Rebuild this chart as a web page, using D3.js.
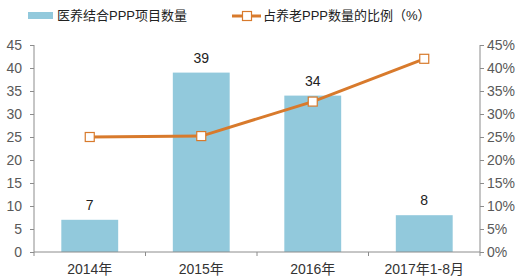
<!DOCTYPE html>
<html>
<head>
<meta charset="utf-8">
<script src="https://cdn.jsdelivr.net/npm/d3@7/dist/d3.min.js"></script>
<style>
  body { margin: 0; background: #fff; }
  svg text { font-family: "Liberation Sans", Arial, "Noto Sans CJK SC", sans-serif; fill: #404040; }
  .axis path, .axis line { stroke: #8c8c8c; }
</style>
</head>
<body>
<svg id="chart" width="520" height="280"></svg>
<script>
"use strict";

const categories = ["2014年", "2015年", "2016年", "2017年1-8月"];
const projectCounts = [7, 39, 34, 8];
const elderlyShare = [25.0, 25.2, 32.7, 42.0];
const leftTicks = [0, 5, 10, 15, 20, 25, 30, 35, 40, 45];
const rightTicks = [0, 5, 10, 15, 20, 25, 30, 35, 40, 45];
const seriesNames = ["医养结合PPP项目数量", "占养老PPP数量的比例（%）"];

const barColor = "#92c9dc";
const lineColor = "#d87a2c";

const svg = d3.select("#chart"),
	width = +svg.attr("width"),
	height = +svg.attr("height");

const margin = { left: 34, right: 40, top: 45, bottom: 28 };
const x0 = margin.left, x1 = width - margin.right;
const yTop = margin.top, yBottom = height - margin.bottom;

let xScale = d3.scaleBand()
	.domain(categories)
	.range([x0, x1])
	.paddingInner(0.49)
	.paddingOuter(0.245);

let xOuter = d3.scaleBand()
	.domain(categories)
	.range([x0, x1]);

let yLeft = d3.scaleLinear().domain([0, 45]).range([yBottom, yTop]);
let yRight = d3.scaleLinear().domain([0, 45]).range([yBottom, yTop]);

// bars
svg.selectAll("rect.bar")
	.data(projectCounts)
	.enter()
	.append("rect")
	.attr("class", "bar")
	.attr("x", (d, i) => xScale(categories[i]))
	.attr("y", d => yLeft(d))
	.attr("width", xScale.bandwidth())
	.attr("height", d => yLeft(0) - yLeft(d))
	.style("fill", barColor);

svg.selectAll("text.value")
	.data(projectCounts)
	.enter()
	.append("text")
	.attr("class", "value")
	.attr("x", (d, i) => xScale(categories[i]) + xScale.bandwidth() / 2)
	.attr("y", d => yLeft(d) - 10)
	.attr("text-anchor", "middle")
	.style("font-size", "14px")
	.style("fill", "#222")
	.text(d => d);

// axes
let yAxisLeft = d3.axisLeft(yLeft).tickValues(leftTicks).tickSize(4).tickPadding(8);
let yAxisRight = d3.axisRight(yRight).tickValues(rightTicks).tickSize(4).tickPadding(3)
	.tickFormat(d => d + "%");

let gL = svg.append("g")
	.attr("class", "axis")
	.attr("transform", "translate(" + x0 + ",0)")
	.call(yAxisLeft);
gL.select(".domain").attr("d", "M0," + yTop + "V" + yBottom);

let gR = svg.append("g")
	.attr("class", "axis")
	.attr("transform", "translate(" + x1 + ",0)")
	.call(yAxisRight);
gR.select(".domain").attr("d", "M0," + yTop + "V" + yBottom);

svg.selectAll(".axis text").style("font-size", "14px").style("fill", "#595959");

// x axis: line with ticks on band boundaries
let gX = svg.append("g").attr("class", "axis");
gX.append("line")
	.attr("x1", x0).attr("x2", x1)
	.attr("y1", yBottom).attr("y2", yBottom);
let boundaries = categories.map(c => xOuter(c)).concat([x1]);
gX.selectAll("line.tick")
	.data(boundaries)
	.enter()
	.append("line")
	.attr("class", "tick")
	.attr("x1", d => d).attr("x2", d => d)
	.attr("y1", yBottom).attr("y2", yBottom + 4);
gX.selectAll("text")
	.data(categories)
	.enter()
	.append("text")
	.attr("x", d => xOuter(d) + xOuter.bandwidth() / 2)
	.attr("y", yBottom + 22)
	.attr("text-anchor", "middle")
	.style("font-size", "14px")
	.style("fill", "#333")
	.text(d => d);

// line series
let line = d3.line()
	.x((d, i) => xOuter(categories[i]) + xOuter.bandwidth() / 2)
	.y(d => yRight(d));

svg.append("path")
	.datum(elderlyShare)
	.attr("d", line)
	.style("fill", "none")
	.style("stroke", lineColor)
	.style("stroke-width", 3);

svg.selectAll("rect.marker")
	.data(elderlyShare)
	.enter()
	.append("rect")
	.attr("class", "marker")
	.attr("x", (d, i) => xOuter(categories[i]) + xOuter.bandwidth() / 2 - 4.5)
	.attr("y", d => yRight(d) - 4.5)
	.attr("width", 9)
	.attr("height", 9)
	.style("fill", "#fff")
	.style("stroke", lineColor)
	.style("stroke-width", 1.2);

// legend
let legend = svg.append("g");
legend.append("rect")
	.attr("x", 28).attr("y", 12)
	.attr("width", 25).attr("height", 7)
	.style("fill", barColor);
legend.append("text")
	.attr("x", 57).attr("y", 20)
	.style("font-size", "13px")
	.style("fill", "#222")
	.text(seriesNames[0]);

legend.append("line")
	.attr("x1", 232).attr("x2", 261)
	.attr("y1", 16).attr("y2", 16)
	.style("stroke", lineColor)
	.style("stroke-width", 3);
legend.append("rect")
	.attr("x", 242.5).attr("y", 11.5)
	.attr("width", 9).attr("height", 9)
	.style("fill", "#fff")
	.style("stroke", lineColor)
	.style("stroke-width", 1.2);
legend.append("text")
	.attr("x", 263).attr("y", 20)
	.style("font-size", "13px")
	.style("fill", "#222")
	.text(seriesNames[1]);
</script>
</body>
</html>
